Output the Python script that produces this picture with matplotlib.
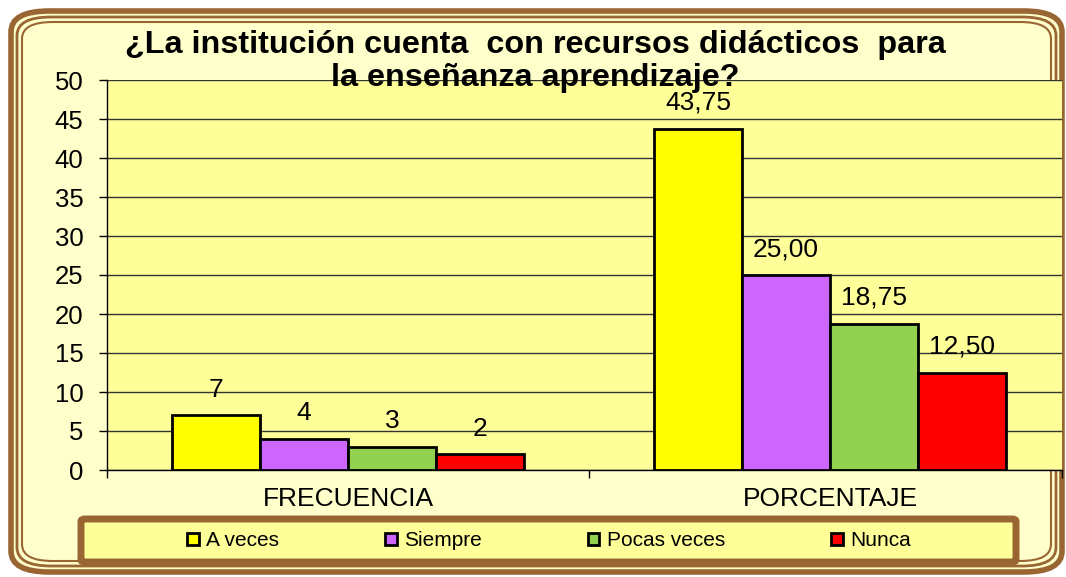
import matplotlib.pyplot as plt
from matplotlib.patches import FancyBboxPatch

plt.rcParams['font.family'] = ['Liberation Sans', 'DejaVu Sans']

categories = ["FRECUENCIA", "PORCENTAJE"]
series = ["A veces", "Siempre", "Pocas veces", "Nunca"]
a_veces = [7, 43.75]
siempre = [4, 25.00]
pocas_veces = [3, 18.75]
nunca = [2, 12.50]
labels_a_veces = ["7", "43,75"]
labels_siempre = ["4", "25,00"]
labels_pocas = ["3", "18,75"]
labels_nunca = ["2", "12,50"]
colors = ["#FFFF00", "#CC66FF", "#92D050", "#FF0000"]

W, H = 1066, 577
fig = plt.figure(figsize=(W / 100, H / 100), dpi=100)
fig.patch.set_facecolor("white")

brown = "#996633"


def px_box(x0, y0, x1, y1):
    # pixel box (top-left origin) -> figure fraction
    return x0 / W, 1 - y1 / H, (x1 - x0) / W, (y1 - y0) / H


# double rounded frame
for (x0, y0, x1, y1), lw, r, fc in [((11, 11, 1062, 572), 4, 0.036, "#FFFFCC"),
                                    ((17, 17, 1056, 566), 2, 0.032, "none"),
                                    ((22, 22, 1051, 561), 1.5, 0.029, "none")]:
    bx, by, bw, bh = px_box(x0, y0, x1, y1)
    p = FancyBboxPatch((bx, by), bw, bh, boxstyle=f"round,pad=0,rounding_size={r}",
                       transform=fig.transFigure, facecolor=fc, edgecolor=brown,
                       linewidth=lw, zorder=0)
    fig.patches.append(p)

# plot area (right edge runs over the frame)
ax = fig.add_axes(px_box(107, 80, 1062, 470))
ax.set_zorder(2)
ax.set_facecolor("#FFFF99")

n = len(series)
width = 0.1826
all_vals = [a_veces, siempre, pocas_veces, nunca]
all_labels = [labels_a_veces, labels_siempre, labels_pocas, labels_nunca]
for i, (vals, labs, name, c) in enumerate(zip(all_vals, all_labels, series, colors)):
    xs = [k + (i - (n - 1) / 2) * width for k in range(len(categories))]
    ax.bar(xs, vals, width, color=c, edgecolor="black", linewidth=2, label=name, zorder=3)
    for x, v, t in zip(xs, vals, labs):
        ax.annotate(t, (x, v), xytext=(0, 10), textcoords="offset points",
                    ha="center", va="bottom", fontsize=19, zorder=4)

ax.set_xlim(-0.5, 1.481)
ax.set_ylim(0, 50)
ax.set_yticks(range(0, 51, 5))
ax.tick_params(axis="y", labelsize=18.5, length=6, width=1, direction="out", pad=11)
ax.yaxis.grid(True, color="#333333", linewidth=1, zorder=0)
ax.set_axisbelow(True)
ax.set_xticks([-0.5, 0.5, 1.481])
ax.set_xticklabels(["", "", ""])
ax.set_xticks([0, 1], minor=True)
ax.set_xticklabels(categories, minor=True)
ax.tick_params(axis="x", which="major", length=6, width=1)
ax.tick_params(axis="x", which="minor", length=0, labelsize=19, pad=12)
for s in ["top", "right"]:
    ax.spines[s].set_visible(False)
ax.spines["left"].set_linewidth(1)
ax.spines["bottom"].set_linewidth(1)

title1 = fig.text(535 / W, 1 - 45 / H, "¿La institución cuenta  con recursos didácticos  para",
                  ha="center", va="center", fontsize=23.3, fontweight="bold")
title2 = fig.text(535 / W, 1 - 78 / H, "la enseñanza aprendizaje?",
                  ha="center", va="center", fontsize=23.3, fontweight="bold")
title1.set_zorder(5)
title2.set_zorder(5)

# legend box
bx, by, bw, bh = px_box(81, 519, 1016, 562)
fig.patches.append(FancyBboxPatch((bx, by), bw, bh, boxstyle="round,pad=0,rounding_size=0.004",
                                  transform=fig.transFigure, facecolor="#FFFF99",
                                  edgecolor=brown, linewidth=5, zorder=1))
leg = fig.legend(loc="center", bbox_to_anchor=(549 / W, 1 - 541 / H),
                 ncol=4, fontsize=15, frameon=False,
                 handlelength=0.55, handleheight=0.55, handletextpad=0.35,
                 columnspacing=5.1)
leg.set_zorder(3)
for h in leg.legend_handles:
    h.set_edgecolor("black")
    h.set_linewidth(2)

fig.savefig("out.png", dpi=100)
